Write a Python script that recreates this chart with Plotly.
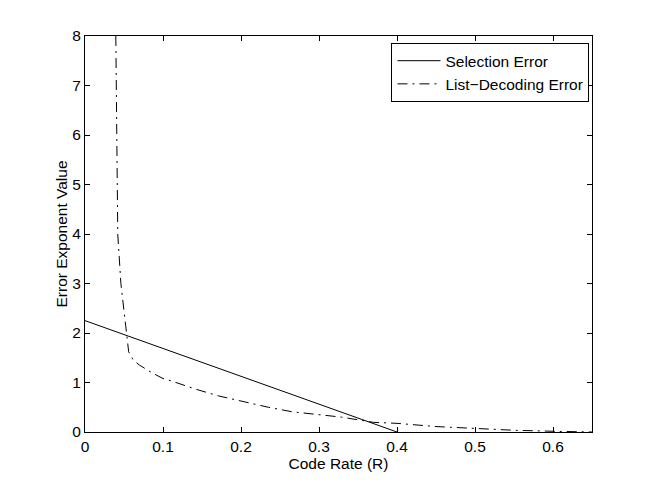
import plotly.graph_objects as go

# Selection error: straight line down to zero
sel_rate = [0.0, 0.4]
sel_exp = [2.25, 0.0]

# List-decoding error
list_rate = [0.0395, 0.0400, 0.0406, 0.0420, 0.0460, 0.0500, 0.0535, 0.0560, 0.0620,
             0.0700, 0.0855, 0.1000, 0.1110, 0.1410, 0.1710, 0.2010, 0.2350, 0.2650,
             0.2990, 0.3290, 0.3700, 0.4000, 0.4500, 0.5000, 0.5500, 0.6000, 0.6500]
list_exp = [8.0, 7.0, 5.0, 4.0, 3.0, 2.4, 1.95, 1.62, 1.45,
            1.35, 1.20, 1.08, 1.03, 0.87, 0.73, 0.62, 0.50, 0.41,
            0.345, 0.30, 0.195, 0.175, 0.11, 0.065, 0.035, 0.015, 0.0]

x_ticks = [0, 0.1, 0.2, 0.3, 0.4, 0.5, 0.6]
x_labels = ["0", "0.1", "0.2", "0.3", "0.4", "0.5", "0.6"]
y_ticks = [0, 1, 2, 3, 4, 5, 6, 7, 8]

font = "Liberation Sans, Arial, Helvetica, sans-serif"
fs = 15.5

fig = go.Figure()
fig.add_trace(go.Scatter(x=sel_rate, y=sel_exp, mode="lines", name="Selection Error",
                         line=dict(color="black", width=1)))
fig.add_trace(go.Scatter(x=list_rate, y=list_exp, mode="lines", name="List\u2212Decoding Error",
                         line=dict(color="black", width=1, dash="10px,5px,2px,5px")))

axis_style = dict(showline=True, linecolor="black", linewidth=1, mirror="ticks",
                  ticks="inside", ticklen=5, tickcolor="black", tickwidth=1,
                  showgrid=False, zeroline=False,
                  tickfont=dict(family=font, size=fs, color="black"))

fig.update_xaxes(range=[0, 0.65], tickvals=x_ticks, ticktext=x_labels,
                 title=dict(text="Code Rate (R)", font=dict(family=font, size=fs, color="black"),
                            standoff=2),
                 **axis_style)
fig.update_yaxes(range=[0, 8], tickvals=y_ticks,
                 title=dict(text="Error Exponent Value", font=dict(family=font, size=fs, color="black"),
                            standoff=0),
                 **axis_style)

# the page adds an 8px body margin, so margins are shifted to compensate
fig.update_layout(
    width=654, height=487,
    margin=dict(l=77, r=70, t=28, b=63),
    paper_bgcolor="white", plot_bgcolor="white",
    font=dict(family=font, size=fs, color="black"),
    legend=dict(x=0.995, y=0.982, xanchor="right", yanchor="top",
                bordercolor="black", borderwidth=1, bgcolor="white",
                font=dict(family=font, size=fs, color="black"),
                tracegroupgap=0, itemwidth=43),
    showlegend=True,
)

fig.write_html("out.html")
